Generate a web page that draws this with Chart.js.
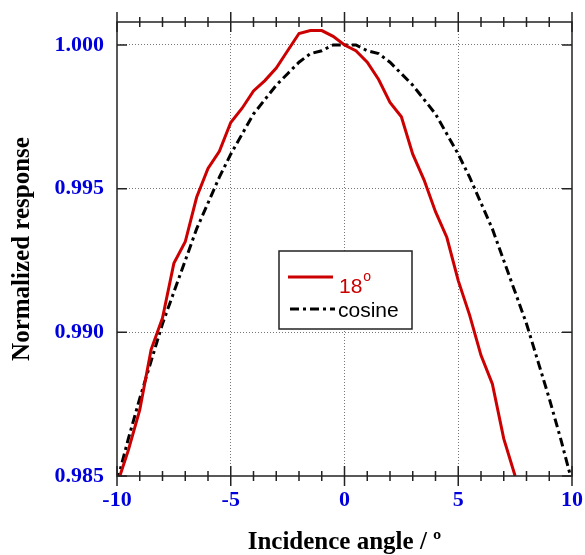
<!DOCTYPE html>
<html>
<head>
<meta charset="utf-8">
<script src="https://cdn.jsdelivr.net/npm/chart.js@4.4.1/dist/chart.umd.min.js"></script>
<style>
  html, body { margin: 0; padding: 0; background: #fff; }
  #wrap { width: 585px; height: 555px; }
</style>
</head>
<body>
<div id="wrap"><canvas id="chart" width="585" height="555"></canvas></div>
<script>
// ---------- data ----------
const angles = [-10, -9.5, -9, -8.5, -8, -7.5, -7, -6.5, -6, -5.5, -5, -4.5, -4, -3.5, -3, -2.5, -2, -1.5, -1, -0.5,
                0, 0.5, 1, 1.5, 2, 2.5, 3, 3.5, 4, 4.5, 5, 5.5, 6, 6.5, 7, 7.5, 8, 8.5, 9, 9.5, 10];

// 18 deg response (ends at 7.5 where it leaves the plot)
const resp18 = [0.9847, 0.9859, 0.9873, 0.9894, 0.9905, 0.9924, 0.99315, 0.9947, 0.9957, 0.9963,
                0.9973, 0.9978, 0.9984, 0.99876, 0.9992, 0.9998, 1.0004, 1.0005, 1.0005, 1.0003,
                1.0000, 0.9998, 0.9994, 0.9988, 0.9980, 0.9975, 0.9962, 0.9953, 0.9942, 0.9933,
                0.9918, 0.9906, 0.9892, 0.9882, 0.9863, 0.9850];

const respCos = [0.9848, 0.9863, 0.9877, 0.9890, 0.9903, 0.9914, 0.9925, 0.9936, 0.9945, 0.9954,
                 0.9962, 0.9969, 0.9976, 0.9981, 0.9986, 0.9990, 0.9994, 0.9997, 0.9998, 1.0000,
                 1.0000, 1.0000, 0.9998, 0.9997, 0.9994, 0.9990, 0.9986, 0.9981, 0.9976, 0.9969,
                 0.9962, 0.9954, 0.9945, 0.9936, 0.9925, 0.9914, 0.9903, 0.9890, 0.9877, 0.9863, 0.9848];

const xTicks = [-10, -9, -8, -7, -6, -5, -4, -3, -2, -1, 0, 1, 2, 3, 4, 5, 6, 7, 8, 9, 10];
const xMajor = [-10, -5, 0, 5, 10];
const yTicks = [0.985, 0.990, 0.995, 1.000];

const RED = '#cc0000';
const BLUE = '#0000dd';

// ---------- frame with ticks on all four sides ----------
const frameTicks = {
    id: 'frameTicks',
    afterDatasetsDraw(chart) {
        const { ctx, chartArea: a, scales: { x, y } } = chart;
        ctx.save();
        ctx.strokeStyle = '#222';
        ctx.lineWidth = 1.5;
        ctx.strokeRect(a.left, a.top, a.right - a.left, a.bottom - a.top);
        ctx.beginPath();
        xTicks.forEach(v => {
            const px = x.getPixelForValue(v);
            const len = xMajor.includes(v) ? 10 : 5;
            ctx.moveTo(px, a.bottom - len); ctx.lineTo(px, a.bottom + len);
            ctx.moveTo(px, a.top - len); ctx.lineTo(px, a.top + len);
        });
        yTicks.forEach(v => {
            const py = y.getPixelForValue(v);
            ctx.moveTo(a.left, py); ctx.lineTo(a.left + 10, py);
            ctx.moveTo(a.right, py); ctx.lineTo(a.right - 10, py);
        });
        ctx.stroke();
        ctx.restore();
    }
};

// ---------- legend box inside the plot ----------
const boxLegend = {
    id: 'boxLegend',
    afterDraw(chart) {
        const { ctx, chartArea: a } = chart;
        const bx = a.left + 162, by = a.top + 229, bw = 133, bh = 78;
        ctx.save();
        ctx.fillStyle = '#fff';
        ctx.fillRect(bx, by, bw, bh);
        ctx.strokeStyle = '#222';
        ctx.lineWidth = 1.5;
        ctx.strokeRect(bx, by, bw, bh);

        const ds = chart.data.datasets;
        // sample lines
        ctx.lineWidth = 3;
        ctx.strokeStyle = ds[0].borderColor;
        ctx.beginPath(); ctx.moveTo(bx + 9, by + 26); ctx.lineTo(bx + 54, by + 26); ctx.stroke();
        ctx.strokeStyle = ds[1].borderColor;
        ctx.setLineDash(ds[1].borderDash);
        ctx.beginPath(); ctx.moveTo(bx + 11, by + 58); ctx.lineTo(bx + 56, by + 58); ctx.stroke();
        ctx.setLineDash([]);

        // labels
        ctx.textBaseline = 'alphabetic';
        ctx.textAlign = 'left';
        ctx.font = '21px "Liberation Sans", Arial, sans-serif';
        ctx.fillStyle = RED;
        const main = ds[0].label.replace('°', '');
        ctx.fillText(main, bx + 60, by + 42);
        const w = ctx.measureText(main).width;
        ctx.font = '14px "Liberation Sans", Arial, sans-serif';
        ctx.fillText('o', bx + 60 + w + 1, by + 30);
        ctx.font = '21px "Liberation Sans", Arial, sans-serif';
        ctx.fillStyle = '#000';
        ctx.fillText(ds[1].label, bx + 59, by + 66);
        ctx.restore();
    }
};

const gridColor = (list) => (c) => (list.includes(c.tick.value) ? '#777' : 'rgba(0,0,0,0)');

new Chart(document.getElementById('chart'), {
    type: 'line',
    data: {
        datasets: [
            {
                label: '18°',
                data: resp18.map((v, i) => ({ x: angles[i], y: v })),
                borderColor: RED,
                borderWidth: 3,
                pointRadius: 0,
                tension: 0,
                fill: false
            },
            {
                label: 'cosine',
                data: respCos.map((v, i) => ({ x: angles[i], y: v })),
                borderColor: '#000',
                borderWidth: 3,
                borderDash: [9, 4, 3, 4],
                pointRadius: 0,
                tension: 0,
                fill: false
            }
        ]
    },
    options: {
        responsive: false,
        animation: false,
        devicePixelRatio: 1,
        layout: { padding: { left: 0, right: 13, top: 22, bottom: 0 } },
        plugins: {
            legend: { display: false },
            tooltip: { enabled: false }
        },
        scales: {
            x: {
                type: 'linear',
                min: -10,
                max: 10,
                afterBuildTicks: (s) => { s.ticks = xTicks.map(v => ({ value: v })); },
                afterFit: (s) => { s.height = 79; s.paddingLeft = 0; s.paddingRight = 0; },
                grid: { color: gridColor([-5, 0, 5]), lineWidth: 1, drawTicks: false },
                border: { display: false, dash: [1, 2] },
                ticks: {
                    autoSkip: false,
                    maxRotation: 0,
                    padding: 11,
                    color: BLUE,
                    font: { family: '"Liberation Serif", "Times New Roman", serif', size: 22, weight: 'bold' },
                    callback: (v) => (xMajor.includes(v) ? String(v) : '')
                },
                title: {
                    display: true,
                    text: 'Incidence angle / º',
                    color: '#000',
                    padding: { top: 0, bottom: 0 },
                    font: { family: '"Liberation Serif", "Times New Roman", serif', size: 25, weight: 'bold', lineHeight: 1 }
                }
            },
            y: {
                type: 'linear',
                min: 0.985,
                max: 1.0008,
                afterBuildTicks: (s) => { s.ticks = yTicks.map(v => ({ value: v })); },
                afterFit: (s) => { s.width = 117; s.paddingTop = 0; s.paddingBottom = 0; },
                grid: { color: gridColor([0.990, 0.995, 1.000]), lineWidth: 1, drawTicks: false },
                border: { display: false, dash: [1, 2] },
                ticks: {
                    padding: 13,
                    color: BLUE,
                    font: { family: '"Liberation Serif", "Times New Roman", serif', size: 22, weight: 'bold' },
                    callback: (v) => v.toFixed(3)
                },
                title: {
                    display: true,
                    text: 'Normalized response',
                    color: '#000',
                    padding: { top: 10, bottom: 0 },
                    font: { family: '"Liberation Serif", "Times New Roman", serif', size: 25, weight: 'bold', lineHeight: 1 }
                }
            }
        }
    },
    plugins: [frameTicks, boxLegend]
});
</script>
</body>
</html>
